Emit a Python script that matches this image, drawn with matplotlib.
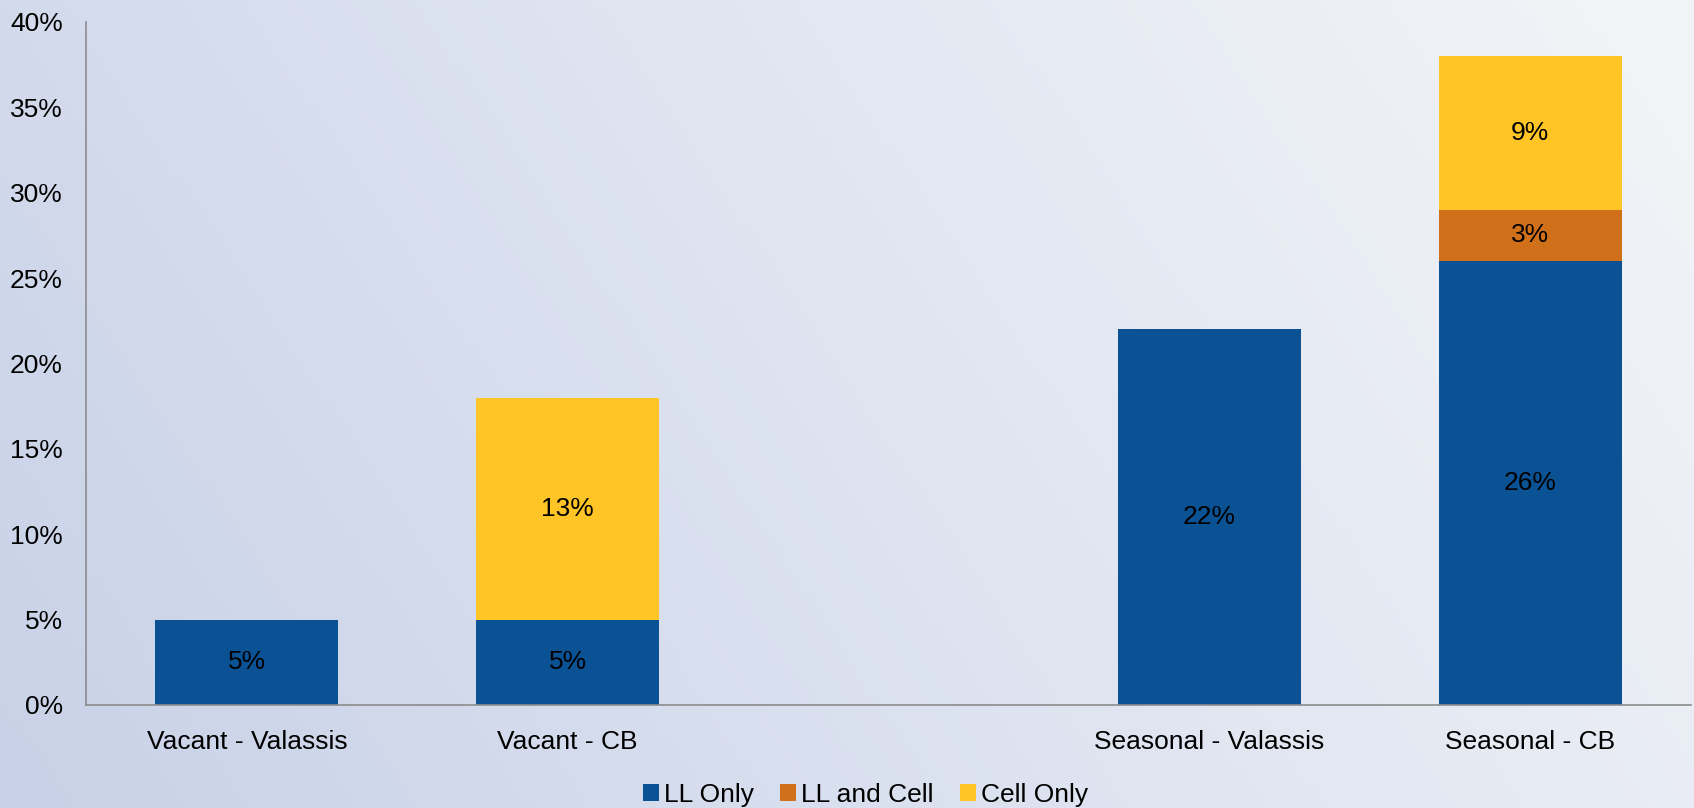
import numpy as np
import matplotlib
matplotlib.use("Agg")
import matplotlib.pyplot as plt
from matplotlib.colors import LinearSegmentedColormap

categories = ["Vacant - Valassis", "Vacant - CB", "", "Seasonal - Valassis", "Seasonal - CB"]
ll_only = [5, 5, 0, 22, 26]
ll_and_cell = [0, 0, 0, 0, 3]
cell_only = [0, 13, 0, 0, 9]
series_names = ["LL Only", "LL and Cell", "Cell Only"]
colors = ["#0a5294", "#d0701b", "#ffc425"]
yticks = [0, 5, 10, 15, 20, 25, 30, 35, 40]

plt.rcParams['font.family'] = ['Liberation Sans', 'DejaVu Sans']
FS = 19

fig = plt.figure(figsize=(16.94, 8.08), dpi=100)

# background gradient
bg = fig.add_axes([0, 0, 1, 1], zorder=-10)
xx, yy = np.meshgrid(np.linspace(0, 1, 200), np.linspace(0, 1, 100))
t = np.clip(0.8 * xx + 0.25 * yy, 0, 1)
cmap = LinearSegmentedColormap.from_list("bg", ["#c8d1e7", "#dde3f0", "#f1f3f7"])
bg.imshow(t, cmap=cmap, aspect="auto", origin="lower", extent=[0, 1, 0, 1])
bg.axis("off")

ax = fig.add_axes([0.051, 0.1275, 0.947, 0.8453])
ax.patch.set_alpha(0)

x = np.arange(len(categories))
w = 0.57
series = [ll_only, ll_and_cell, cell_only]
bottom = np.zeros(len(categories))
for name, vals, c in zip(series_names, series, colors):
    vals = np.array(vals, dtype=float)
    ax.bar(x, vals, w, bottom=bottom, color=c, label=name)
    for xi, v, b in zip(x, vals, bottom):
        if v > 0:
            ax.text(xi, b + v / 2, f"{int(v)}%", ha="center", va="center",
                    fontsize=FS, color="black")
    bottom += vals

ax.set_xlim(-0.5, len(categories) - 0.5)
ax.set_ylim(0, 40)
ax.set_yticks(yticks)
ax.set_yticklabels([f"{v}%" for v in yticks], fontsize=FS)
ax.set_xticks(x)
ax.set_xticklabels(categories, fontsize=FS)
ax.tick_params(axis="x", length=0, pad=18)
ax.tick_params(axis="y", length=0, pad=17)
for s in ["top", "right"]:
    ax.spines[s].set_visible(False)
for s in ["left", "bottom"]:
    ax.spines[s].set_color("#8c8c8c")
    ax.spines[s].set_linewidth(1.2)

fig.legend(loc="lower center", bbox_to_anchor=(0.511, -0.028), ncol=3, frameon=False,
           fontsize=FS, handlelength=0.6, handleheight=0.6, handletextpad=0.2,
           columnspacing=1.0)

fig.savefig("out.png", dpi=100)
